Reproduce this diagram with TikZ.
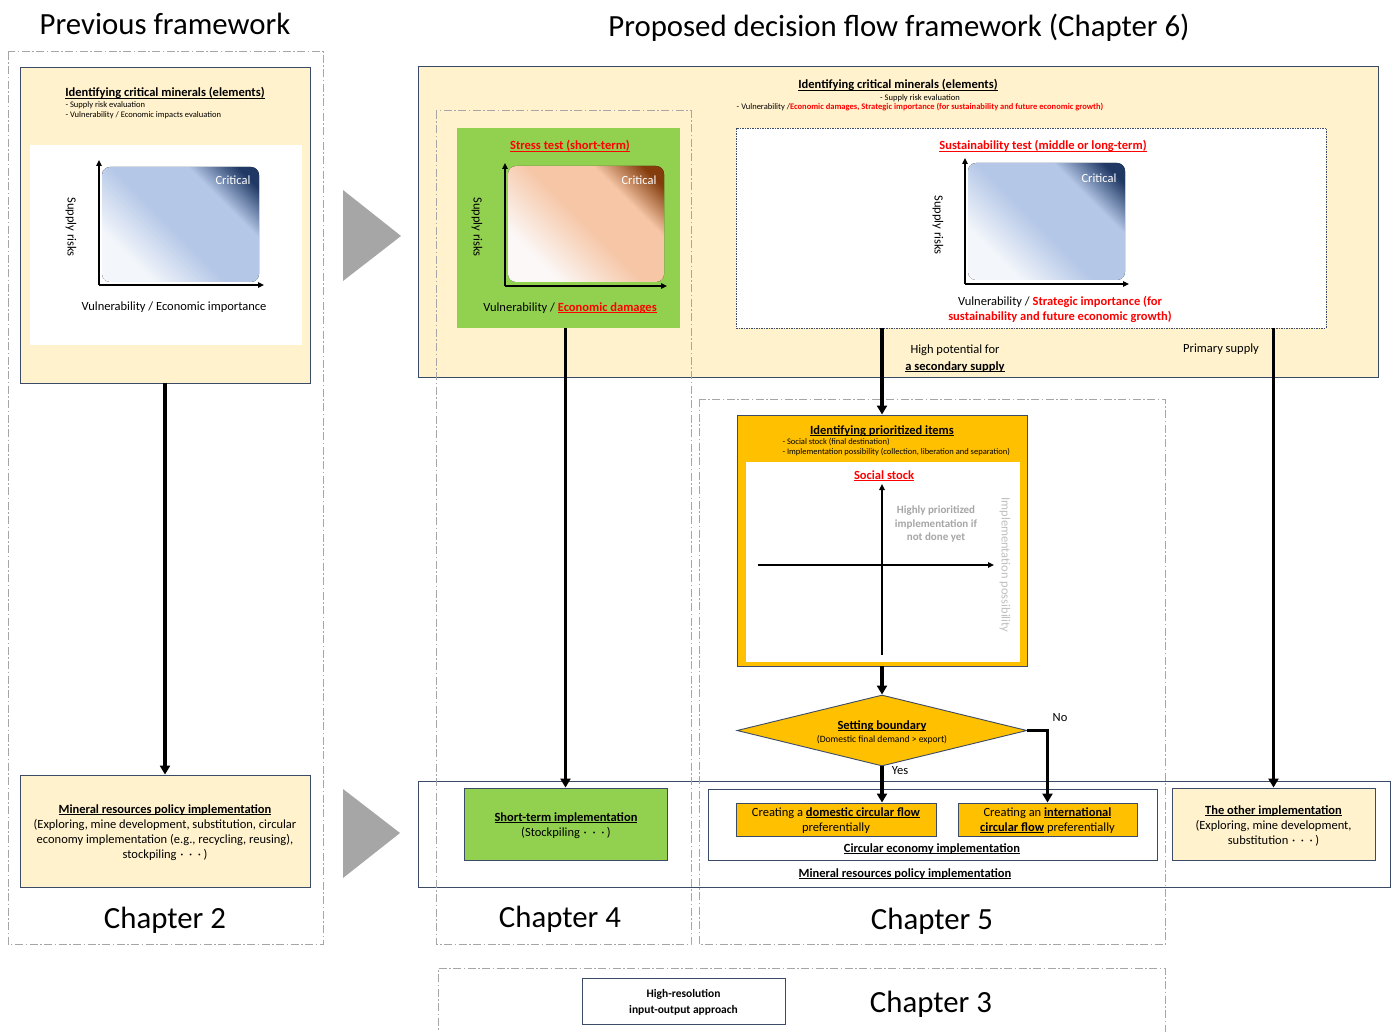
\documentclass[tikz,border=0pt]{standalone}
\usepackage{fontspec}
\setmainfont{Carlito}
\usetikzlibrary{arrows.meta,shapes.geometric,fit,calc}

\definecolor{cream}{HTML}{FFF2CC}
\definecolor{leaf}{HTML}{92D050}
\definecolor{amber}{HTML}{FFC000}
\definecolor{edge}{HTML}{3B4A66}
\definecolor{chapline}{HTML}{A6A6A6}
\definecolor{pointer}{HTML}{A6A6A6}
\definecolor{alert}{HTML}{FF0000}
\definecolor{dimtext}{HTML}{A6A6A6}
\definecolor{faint}{HTML}{BFBFBF}
\definecolor{cbA}{HTML}{F3F6FB}
\definecolor{cbB}{HTML}{B4C7E7}
\definecolor{cbC}{HTML}{1F3864}
\definecolor{cpA}{HTML}{FBF8F7}
\definecolor{cpB}{HTML}{F6C6A6}
\definecolor{cpC}{HTML}{843C0C}

% diagonal gradients of the criticality matrices
\pgfdeclarehorizontalshading{critblue}{100bp}{color(0bp)=(cbA); color(28bp)=(cbA); color(47bp)=(cbB); color(67bp)=(cbB); color(80bp)=(cbC); color(100bp)=(cbC)}
\pgfdeclarehorizontalshading{critpeach}{100bp}{color(0bp)=(cpA); color(28bp)=(cpA); color(50bp)=(cpB); color(67bp)=(cpB); color(80bp)=(cpC); color(100bp)=(cpC)}

\newcommand\fsz[2]{\fontsize{#1pt}{#2pt}\selectfont}
% underline drawn just under the baseline, crossing descenders
\newcommand\ulbase[1]{\setbox0\hbox{#1}\rlap{\rule[-1.7pt]{\wd0}{0.75pt}}\box0\relax}
\newcommand\hd[1]{\ulbase{\textbf{#1}}}
\newcommand\hdred[1]{\textcolor{alert}{\ulbase{\textbf{#1}}}}
\newcommand\tridot{\hspace{0.3em}·\hspace{0.45em}·\hspace{0.45em}·\hspace{0.2em}}

\begin{document}
\begin{tikzpicture}[x=1pt,y=-1pt,
  font=\fsz{12.5}{15},
  box/.style={draw=edge,line width=0.9pt,inner sep=0pt},
  chapbox/.style={draw=chapline,line width=1pt,dash pattern=on 8pt off 2.5pt on 1.5pt off 2.5pt},
  flow/.style={line width=3.2pt,-{Triangle[length=9pt,width=10pt]}},
  axisline/.style={line width=1.3pt,-{Triangle[length=6pt,width=5.5pt]}},
  smalltext/.style={font=\fsz{8.5}{10}},
  chaptitle/.style={font=\fsz{30.8}{34}},
  crittext/.style={text=white,anchor=east},
  vert/.style={rotate=-90},
  onbase/.style={anchor=base},
]
\useasboundingbox[fill=white] (0,0) rectangle (1397,1032);

% ---------- titles ----------
\node[chaptitle] (ttlprev) at (165,24) {Previous framework};
\node[chaptitle] (ttlprop) at (899,28) {Proposed decision flow framework (Chapter 6)};

% ---------- previous framework ----------
\node[box,fill=cream,fit={(20,67)(310,383)}] (prevcrit) {};
\node[onbase] (prevhd) at (165,97) {\hd{Identifying critical minerals (elements)}};
\node[smalltext,anchor=west,align=left] (prevbul) at (62,110.5) {- Supply risk evaluation\\- Vulnerability / Economic impacts evaluation};
\node[fill=white,inner sep=0pt,fit={(30,145)(302,345)}] (prevplot) {};
\fill[shading=critblue,shading angle=45,rounded corners=8pt] (102,167) rectangle (259,282);
\coordinate (o1) at (99,285);
\draw[axisline] (o1) -- (99,160);
\draw[axisline] (o1) -- (264,285);
\node[crittext] (prevcr) at (254,180) {Critical};
\node[vert] (prevy) at (71,227) {Supply risks};
\node (prevx) at (174,307) {Vulnerability / Economic importance};

\node[box,fill=cream,fit={(20,775)(310,887)}] (prevpol) {};
\node[align=center] (prevpoltx) at (165,832.5) {\hd{Mineral resources policy implementation}\\(Exploring, mine development, substitution, circular\\economy implementation (e.g., recycling, reusing),\\stockpiling\tridot)};
\node[chaptitle] (ch2) at (165,920) {Chapter 2};

\fill[pointer] (343,190) -- (401,236) -- (343,281) -- cycle;
\fill[pointer] (343,789) -- (400,833) -- (343,878) -- cycle;

% ---------- proposed framework: criticality ----------
\node[box,fill=cream,fit={(418,66)(1378,377)}] (propcrit) {};
\node[onbase] (prophd) at (898,89) {\hd{Identifying critical minerals (elements)}};
\node[smalltext] (propb1) at (920,98) {- Supply risk evaluation};
\node[smalltext] (propb2) at (920,107) {- Vulnerability /\textcolor{alert}{\bfseries Economic damages, Strategic importance (for sustainability and future economic growth)}};

\node[fill=leaf,inner sep=0pt,fit={(457,128)(680,328)}] (stress) {};
\node[onbase] (stresshd) at (570,150) {\hdred{Stress test (short-term)}};
\fill[shading=critpeach,shading angle=45,rounded corners=8pt] (508,166) rectangle (664,282);
\coordinate (o2) at (505,286);
\draw[axisline] (o2) -- (505,163);
\draw[axisline] (o2) -- (667,286);
\node[crittext] (stresscr) at (660,180) {Critical};
\node[vert] (stressy) at (477,227) {Supply risks};
\node[onbase] (stressx) at (570,311) {Vulnerability / \hdred{Economic damages}};

\node[fill=white,draw=edge,line width=0.9pt,dash pattern=on 1.5pt off 1pt,inner sep=0pt,fit={(736,128)(1326,328)}] (sust) {};
\node[onbase] (susthd) at (1043,150) {\hdred{Sustainability test (middle or long-term)}};
\fill[shading=critblue,shading angle=45,rounded corners=8pt] (968,163) rectangle (1125,280);
\coordinate (o3) at (965,284);
\draw[axisline] (o3) -- (965,158);
\draw[axisline] (o3) -- (1129,284);
\node[crittext] (sustcr) at (1120,178) {Critical};
\node[vert] (susty) at (938,225) {Supply risks};
\node[align=center] (sustx) at (1060,309.5) {Vulnerability / \textcolor{alert}{\bfseries Strategic importance (for}\\\textcolor{alert}{\bfseries sustainability and future economic growth)}};

\node[onbase] (seclbl) at (955,353) {High potential for};
\node[onbase] (seclbl2) at (955,370) {\hd{a secondary supply}};
\node (primlbl) at (1221,349) {Primary supply};

% ---------- prioritisation ----------
\node[box,fill=amber,fit={(737,415)(1027,666)}] (prio) {};
\node[onbase] (priohd) at (882,434) {\hd{Identifying prioritized items}};
\node[anchor=west,align=left,font=\fsz{8.5}{10}] (priobul) at (779,447.5) {- Social stock (final destination)\\- Implementation possibility (collection, liberation and separation)};
\node[fill=white,inner sep=0pt,fit={(746,462)(1020,662)}] (prioplot) {};
\node[onbase] (priostock) at (884,479) {\hdred{Social stock}};
\coordinate (qb) at (882,655);
\coordinate (ql) at (758,565);
\draw[axisline] (qb) -- (882,484);
\draw[axisline] (ql) -- (994,565);
\node[align=center,text=dimtext,font=\bfseries\fsz{11}{13.5}] (prionote) at (936,524) {Highly prioritized\\implementation if\\not done yet};
\node[vert,text=faint] (prioaxis) at (1005,565) {Implementation possibility};

\node[diamond,fill=amber,draw=edge,line width=0.9pt,inner sep=0pt,minimum width=290pt,minimum height=71pt] (bnd) at (882,730.5) {};
\node[onbase] (bndtx) at (882,729) {\hd{Setting boundary}};
\node[font=\fsz{9.6}{11}] (bndsub) at (882,739.5) {(Domestic final demand > export)};
\node (bndno) at (1060,718) {No};
\node (bndyes) at (900,771) {Yes};

% ---------- implementation ----------
\node[box,fit={(418,781)(1390,887)}] (impl) {};
\node[onbase] (impltx) at (905,877) {\hd{Mineral resources policy implementation}};
\node[box,fill=leaf,fit={(464,788)(667,860)}] (short) {};
\node[align=center] (shorttx) at (566,825.5) {\hd{Short-term implementation}\\(Stockpiling\tridot)};
\node[box,fill=white,fit={(708,789)(1157,860)}] (ce) {};
\node[box,fill=amber,fit={(736,803)(936,836)}] (dom) {};
\node[align=center] (domtx) at (836,820.5) {Creating a \hd{domestic circular flow}\\preferentially};
\node[box,fill=amber,fit={(958,803)(1137,836)}] (intl) {};
\node[align=center] (intltx) at (1047.5,820.5) {Creating an \hd{international}\\\hd{circular flow} preferentially};
\node[onbase] (cetx) at (932,852) {\hd{Circular economy implementation}};
\node[box,fill=cream,fit={(1172,788)(1375,860)}] (other) {};
\node[align=center] (othertx) at (1273.5,825.5) {\hd{The other implementation}\\(Exploring, mine development,\\substitution\tridot)};

\node[chaptitle] (ch4) at (560,919) {Chapter 4};
\node[chaptitle] (ch5) at (932,921) {Chapter 5};
\node[box,fill=white,fit={(582,978)(785,1024)}] (hr) {};
\node[align=center,font=\bfseries\fsz{11.5}{16}] (hrtx) at (683.5,1002) {High-resolution\\input-output approach};
\node[chaptitle] (ch3) at (931,1004) {Chapter 3};

% ---------- chapter frames ----------
\draw[chapbox] (8,52) rectangle (323,944);
\draw[chapbox] (436,111) rectangle (691,944);
\draw[chapbox] (699,399) rectangle (1165,944);
\draw[chapbox] (438,1040) -- (438,968) -- (1165,968) -- (1165,1040);

% ---------- flows ----------
\draw[flow] (prevcrit.south) -- (prevpol.north);
\draw[flow] (short.north |- stress.south) -- (short.north);
\draw[flow] (prio.north |- sust.south) -- (prio.north);
\draw[flow] (other.north |- sust.south) -- (other.north);
\draw[flow] (prio.south) -- (bnd.north);
\draw[flow] (bnd.south) -- (bnd.south |- dom.north);
\draw[flow] (bnd.east) -| (intl.north);
\end{tikzpicture}
\end{document}
